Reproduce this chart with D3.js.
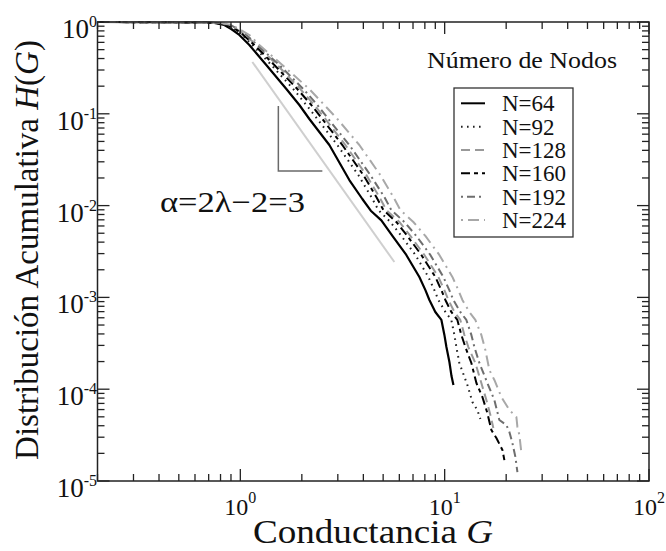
<!DOCTYPE html>
<html>
<head>
<meta charset="utf-8">
<script src="https://cdn.jsdelivr.net/npm/d3@7"></script>
<style>
  body { margin: 0; background: #fff; }
  svg { display: block; }
  text { font-family: "Liberation Serif", "Times New Roman", serif; fill: #111; }
</style>
</head>
<body>
<svg id="chart" width="666" height="551"></svg>
<script>
// cumulative distribution H(G), one list of [G, H] per network size
let n64 = [[0.2,1],[0.63,0.988],[0.746,0.975],[0.835,0.928],[0.903,0.839],[0.989,0.722],[1.107,0.562],[1.34,0.34],[1.68,0.186],[1.945,0.1247],[2.177,0.0878],[2.727,0.0457],[3.416,0.0190],[3.955,0.0118],[4.35,0.00880],[4.90,0.00690],[5.55,0.00467],[6.49,0.0029],[7.52,0.00167],[8.05,0.0012],[8.42,0.000937],[9.0,0.000694],[9.64,0.000568],[9.97,0.00039],[10.2,0.000288],[10.55,0.000198],[10.8,0.000139],[11.04,0.000111]];
let n92 = [[0.2,1],[0.63,0.988],[0.763,0.975],[0.854,0.928],[0.935,0.839],[1.023,0.722],[1.145,0.562],[1.418,0.34],[1.817,0.186],[2.104,0.1247],[2.382,0.0878],[2.984,0.0457],[3.781,0.0215],[4.377,0.0124],[4.738,0.00895],[5.424,0.00663],[6.138,0.00467],[7.19,0.0029],[8.32,0.00167],[8.906,0.0012],[9.317,0.000937],[10.08,0.000694],[10.78,0.000568],[11.16,0.00039],[11.41,0.000288],[11.80,0.000193],[12.92,0.000111],[13.67,7.26e-5],[14.45,5.93e-5],[14.95,4.74e-5]];
let n128 = [[0.2,1],[0.63,0.988],[0.780,0.975],[0.873,0.928],[0.956,0.839],[1.058,0.722],[1.198,0.562],[1.517,0.34],[1.966,0.186],[2.302,0.1247],[2.607,0.0878],[3.266,0.0457],[4.139,0.0215],[4.790,0.0124],[5.185,0.00895],[6.002,0.00663],[6.796,0.00467],[7.956,0.0029],[9.316,0.00167],[9.966,0.0012],[10.43,0.000937],[11.16,0.000694],[11.93,0.000568],[12.49,0.00039],[13.06,0.000288],[14.13,0.000193],[15.12,0.0001168],[16.0,7.63e-5],[16.74,5.24e-5],[17.31,3.78e-5]];
let n160 = [[0.2,1],[0.63,0.988],[0.772,0.975],[0.864,0.928],[0.945,0.839],[1.034,0.722],[1.171,0.562],[1.467,0.34],[1.901,0.186],[2.226,0.1247],[2.52,0.0878],[3.157,0.0457],[4.001,0.0215],[4.631,0.0124],[5.011,0.00895],[5.801,0.00663],[6.569,0.00467],[7.691,0.0029],[9.005,0.00167],[9.634,0.0012],[10.08,0.000937],[10.78,0.000694],[11.54,0.000568],[12.07,0.00039],[12.63,0.000288],[13.51,0.000193],[14.30,0.0001168],[15.30,8.22e-5],[16.18,5.5e-5],[16.93,3.59e-5],[17.91,2.94e-5],[19.17,2.18e-5],[19.6,1.69e-5]];
let n192 = [[0.2,1],[0.63,0.988],[0.789,0.975],[0.894,0.928],[0.967,0.839],[1.070,0.722],[1.211,0.562],[1.552,0.34],[2.034,0.186],[2.382,0.1247],[2.697,0.0878],[3.416,0.0457],[4.328,0.0215],[5.068,0.0124],[5.483,0.00895],[6.349,0.00663],[7.27,0.00467],[8.511,0.0029],[9.854,0.00167],[10.54,0.0012],[11.03,0.000937],[11.93,0.000694],[12.77,0.000568],[13.51,0.00039],[13.98,0.000288],[14.79,0.000193],[16.18,0.0001168],[17.51,7.63e-5],[18.52,4.62e-5],[20.04,4.07e-5],[20.74,3.42e-5],[21.45,2.59e-5],[22.19,1.83e-5],[22.70,1.25e-5]];
let n224 = [[0.2,1],[0.63,0.988],[0.798,0.975],[0.903,0.928],[0.989,0.839],[1.107,0.722],[1.239,0.562],[1.605,0.34],[2.177,0.186],[2.578,0.1247],[2.984,0.0878],[3.824,0.0457],[4.845,0.0215],[5.610,0.0124],[6.070,0.00895],[7.028,0.00663],[8.046,0.00467],[9.419,0.0029],[10.91,0.00167],[11.67,0.0012],[12.21,0.000937],[13.21,0.000694],[14.13,0.000568],[15.12,0.00039],[15.82,0.000267],[16.55,0.000162],[17.51,0.000126],[18.95,8.22e-5],[20.74,5.93e-5],[22.44,4.98e-5],[22.70,3.88e-5],[23.21,3.17e-5],[23.74,2.02e-5]];

let seriesNames = ['N=64', 'N=92', 'N=128', 'N=160', 'N=192', 'N=224'];
let seriesData = [n64, n92, n128, n160, n192, n224];
let seriesColors = ['#000', '#222', '#999', '#000', '#6e6e6e', '#a8a8a8'];
let seriesDash = [null, '1.6,4.4', '9,5', '9,4,4,4', '2,4,8,4', '2,5,11,5'];

// slope guide (alpha = 3) and the little triangle
let guideLine = [[1.145, 0.3666], [5.674, 0.00243]];
let triangle = [[1.535, 0.1216], [1.535, 0.0238], [2.52, 0.0238]];

let xDomain = [0.2, 100];
let yDomain = [1e-5, 1];
let xLabelExp = ['0', '1', '2'];
let yLabelExp = ['0', '-1', '-2', '-3', '-4', '-5'];

let svg = d3.select('#chart');
let pl = 97.5, pr = 649, pt = 22, pb = 481;

let x = d3.scaleLog().domain(xDomain).range([pl, pr]);
let y = d3.scaleLog().domain(yDomain).range([pb, pt]);

let isMajor = function(v) { return Math.abs(Math.log10(v) - Math.round(Math.log10(v))) < 1e-9; };

svg.append('defs').append('clipPath').attr('id', 'plot-clip')
  .append('rect').attr('x', pl).attr('y', pt - 1).attr('width', pr - pl).attr('height', pb - pt + 2);

// guide + triangle
let line = d3.line().x(d => x(d[0])).y(d => y(d[1]));
svg.append('path').attr('d', line(guideLine))
  .attr('fill', 'none').attr('stroke', '#cfcfcf').attr('stroke-width', 2);
svg.append('path').attr('d', line(triangle))
  .attr('fill', 'none').attr('stroke', '#6a6a6a').attr('stroke-width', 1.5);

// curves
let curves = svg.append('g').attr('clip-path', 'url(#plot-clip)');
for (let i = 0; i < seriesData.length; i++) {
  let p = curves.append('path').attr('d', line(seriesData[i]))
    .attr('fill', 'none').attr('stroke', seriesColors[i])
    .attr('stroke-width', i == 0 ? 2.2 : 2).attr('stroke-linejoin', 'round');
  if (seriesDash[i]) p.attr('stroke-dasharray', seriesDash[i]);
}

// frame and inward ticks
svg.append('rect').attr('x', pl).attr('y', pt).attr('width', pr - pl).attr('height', pb - pt)
  .attr('fill', 'none').attr('stroke', '#222').attr('stroke-width', 1.5);

let ticks = svg.append('g').attr('stroke', '#222').attr('stroke-width', 1.3);
x.ticks().forEach(function(v) {
  let len = isMajor(v) ? 12 : 7;
  ticks.append('line').attr('x1', x(v)).attr('x2', x(v)).attr('y1', pb).attr('y2', pb - len);
  ticks.append('line').attr('x1', x(v)).attr('x2', x(v)).attr('y1', pt).attr('y2', pt + len);
});
y.ticks().forEach(function(v) {
  let len = isMajor(v) ? 12 : 7;
  ticks.append('line').attr('y1', y(v)).attr('y2', y(v)).attr('x1', pl).attr('x2', pl + len);
  ticks.append('line').attr('y1', y(v)).attr('y2', y(v)).attr('x1', pr).attr('x2', pr - len);
});

// tick labels
x.ticks().filter(isMajor).forEach(function(v, i) {
  let t = svg.append('text').attr('x', x(v)).attr('y', 515).attr('text-anchor', 'middle');
  t.append('tspan').attr('font-size', 24).text('10');
  t.append('tspan').attr('font-size', 16).attr('dy', -12).text(xLabelExp[i]);
});
y.ticks().filter(isMajor).reverse().forEach(function(v, i) {
  let t = svg.append('text').attr('x', 97).attr('y', y(v) + 16).attr('text-anchor', 'end');
  t.append('tspan').attr('font-size', 27).text('10');
  t.append('tspan').attr('font-size', 16).attr('dy', -11).text(yLabelExp[i]);
});

// axis titles
let xt = svg.append('text').attr('x', 373).attr('y', 543).attr('text-anchor', 'middle').attr('font-size', 34)
  .attr('textLength', 240).attr('lengthAdjust', 'spacingAndGlyphs');
xt.append('tspan').text('Conductancia  ');
xt.append('tspan').attr('font-style', 'italic').text('G');

let yt = svg.append('text').attr('transform', 'translate(38,250) rotate(-90)')
  .attr('text-anchor', 'middle').attr('font-size', 33);
yt.append('tspan').text('Distribución Acumulativa ');
yt.append('tspan').attr('font-style', 'italic').text('H');
yt.append('tspan').text('(');
yt.append('tspan').attr('font-style', 'italic').text('G');
yt.append('tspan').text(')');

// slope annotation
svg.append('text').attr('x', 160).attr('y', 212).attr('font-size', 30)
  .attr('textLength', 145).attr('lengthAdjust', 'spacingAndGlyphs')
  .text('α=2λ−2=3');

// legend
svg.append('text').attr('x', 427).attr('y', 68).attr('font-size', 24)
  .attr('textLength', 190).attr('lengthAdjust', 'spacingAndGlyphs')
  .text('Número de Nodos');
svg.append('rect').attr('x', 454).attr('y', 88).attr('width', 119).attr('height', 149)
  .attr('fill', '#fff').attr('stroke', '#333').attr('stroke-width', 1.3);
for (let i = 0; i < seriesNames.length; i++) {
  let cy = 103.3 + i * 23.35;
  let s = svg.append('line').attr('x1', 461).attr('x2', 485).attr('y1', cy).attr('y2', cy)
    .attr('stroke', seriesColors[i]).attr('stroke-width', 2);
  if (seriesDash[i]) s.attr('stroke-dasharray', seriesDash[i]);
  svg.append('text').attr('x', 502).attr('y', cy + 8).attr('font-size', 23).text(seriesNames[i]);
}
</script>
</body>
</html>
